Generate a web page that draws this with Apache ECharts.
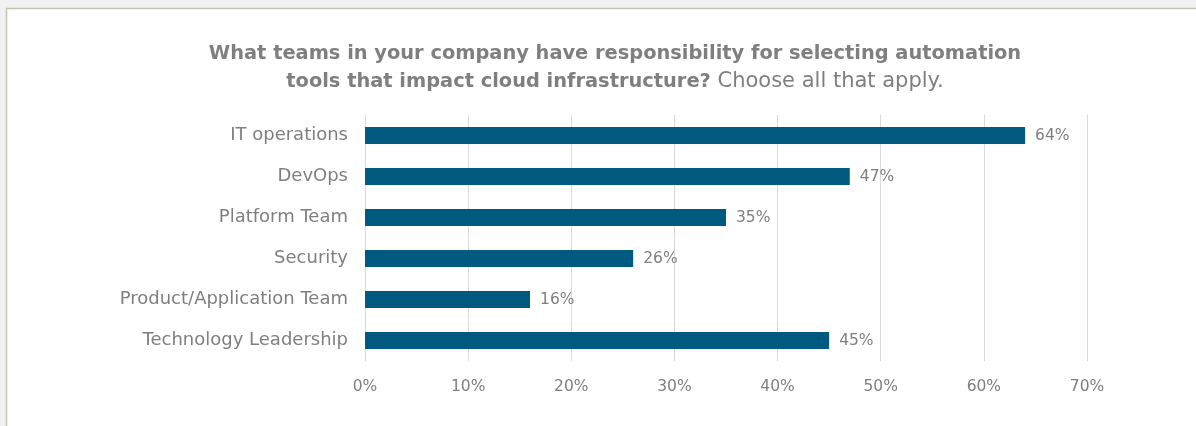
<!DOCTYPE html>
<html>
<head>
<meta charset="utf-8">
<script src="https://cdn.jsdelivr.net/npm/echarts@6/dist/echarts.min.js"></script>
<style>
  html, body { margin: 0; padding: 0; background: #f1f1f1; }
  #chart { width: 1196px; height: 426px; }
</style>
</head>
<body>
<div id="chart"></div>
<script>
// Survey responses: teams responsible for selecting cloud automation tools
const categories = [
  'IT operations',
  'DevOps',
  'Platform Team',
  'Security',
  'Product/Application Team',
  'Technology Leadership'
];
const shares = [64, 47, 35, 26, 16, 45];
const axisTicks = [0, 10, 20, 30, 40, 50, 60, 70];

const FONT = '"DejaVu Sans", "Noto Sans", sans-serif';
const GREY = '#7f7f7f';

const chart = echarts.init(document.getElementById('chart'), null, { renderer: 'canvas' });

chart.setOption({
  animation: false,
  backgroundColor: '#f1f1f1',
  graphic: [
    {
      type: 'rect',
      z: -10,
      shape: { x: 6.5, y: 8.5, width: 1210, height: 440 },
      style: { fill: '#ffffff', stroke: '#c6c4ae', lineWidth: 1.5 }
    }
  ],
  title: {
    left: 610,
    top: 35,
    textAlign: 'center',
    text: '{b|What teams in your company have responsibility for selecting automation}\n{b|tools that impact cloud infrastructure?}{n| Choose all that apply.}',
    textStyle: {
      rich: {
        b: { fontFamily: FONT, fontSize: 19.4, fontWeight: 'bold', color: GREY, lineHeight: 28 },
        n: { fontFamily: FONT, fontSize: 21, fontWeight: 'normal', color: GREY, lineHeight: 28 }
      }
    }
  },
  grid: {
    left: 365,
    right: 109,
    top: 115,
    bottom: 65,
    containLabel: false
  },
  xAxis: {
    type: 'value',
    min: axisTicks[0],
    max: axisTicks[axisTicks.length - 1],
    interval: 10,
    axisLine: { show: false },
    axisTick: { show: false },
    splitLine: { show: true, lineStyle: { color: '#d9d9d9', width: 1 } },
    axisLabel: {
      formatter: v => v + '%',
      color: GREY,
      fontFamily: FONT,
      fontSize: 15.5,
      margin: 18
    }
  },
  yAxis: {
    type: 'category',
    data: categories,
    inverse: true,
    axisLine: { show: true, lineStyle: { color: '#d9d9d9', width: 1 } },
    axisTick: { show: false },
    axisLabel: {
      color: GREY,
      fontFamily: FONT,
      fontSize: 18,
      margin: 17
    }
  },
  series: [
    {
      type: 'bar',
      data: shares,
      barCategoryGap: '58%',
      itemStyle: { color: '#005a80' },
      label: {
        show: true,
        position: 'right',
        distance: 10,
        formatter: p => p.value + '%',
        color: GREY,
        fontFamily: FONT,
        fontSize: 15.5
      }
    }
  ]
});
</script>
</body>
</html>
